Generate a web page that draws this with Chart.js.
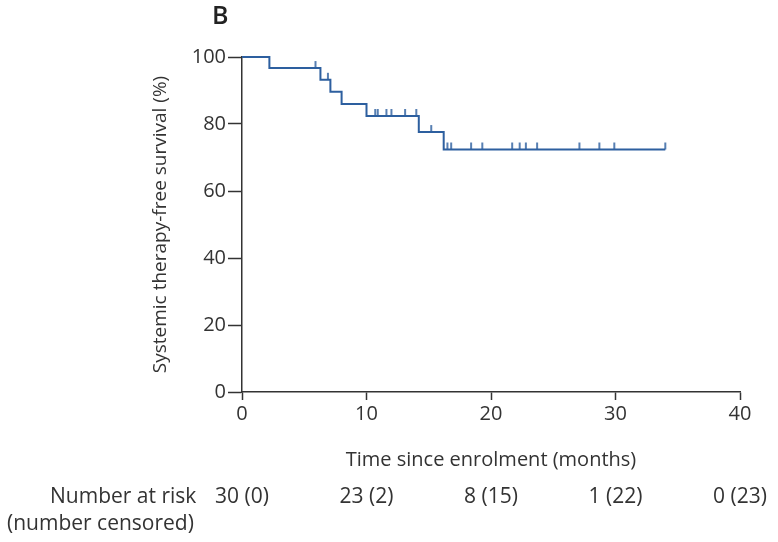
<!DOCTYPE html>
<html>
<head>
<meta charset="utf-8">
<script src="https://cdn.jsdelivr.net/npm/chart.js@4"></script>
<style>
  html,body{margin:0;padding:0;background:#fff;}
  #wrap{width:778px;height:542px;}
</style>
</head>
<body>
<div id="wrap"><canvas id="kmChart" width="778" height="542"></canvas></div>
<script>
// Kaplan-Meier-Kurve
const kmTimes = [0, 2.2, 6.3, 7.1, 8.0, 10.0, 14.2, 16.2, 34.0];
const kmSurv  = [100, 96.7, 93.2, 89.6, 86.0, 82.4, 77.6, 72.4, 72.4];

// zensierte Patienten
const censorTimes = [5.9, 6.9, 10.7, 10.9, 11.6, 12.0, 13.1, 14.0, 15.2, 16.5, 16.8, 18.4, 19.3, 21.7, 22.3, 22.8, 23.7, 27.1, 28.7, 29.9, 34.0];
const censorSurv  = [96.7, 93.2, 82.4, 82.4, 82.4, 82.4, 82.4, 82.4, 77.6, 72.4, 72.4, 72.4, 72.4, 72.4, 72.4, 72.4, 72.4, 72.4, 72.4, 72.4, 72.4];

// Number at risk
const riskTimes    = [0, 10, 20, 30, 40];
const riskCounts   = [30, 23, 8, 1, 0];
const riskCensored = [0, 2, 15, 22, 23];

const yTicks = [0, 20, 40, 60, 80, 100];
const xTicks = [0, 10, 20, 30, 40];

const blue = '#2d5f9f';
const ink = '#333';
const fontFam = '"Open Sans", sans-serif';

// kleiner Strich nach oben als Zensur-Marker
const tick = document.createElement('canvas');
tick.width = 4; tick.height = 16;
(function(){
  const c = tick.getContext('2d');
  c.strokeStyle = blue; c.lineWidth = 1.6;
  c.beginPath(); c.moveTo(2, 1); c.lineTo(2, 8); c.stroke();
})();

const extras = {
  id:'extras',
  afterDraw(chart){
    const ctx = chart.ctx, xs = chart.scales.x;
    ctx.save();
    ctx.fillStyle = '#222';
    ctx.font = '600 25px ' + fontFam;
    ctx.textBaseline = 'middle';
    ctx.textAlign = 'left';
    ctx.fillText('B', 212, 17);

    ctx.fillStyle = ink;
    ctx.font = '21px ' + fontFam;
    ctx.fillText('Number at risk', 50, 497);
    ctx.fillText('(number censored)', 7, 524);
    ctx.textAlign = 'center';
    riskTimes.forEach((t, i) => {
      ctx.fillText(riskCounts[i] + ' (' + riskCensored[i] + ')', xs.getPixelForValue(t), 497);
    });
    ctx.restore();
  }
};

new Chart(document.getElementById('kmChart'), {
  type:'line',
  data:{
    datasets:[
      {
        data: kmTimes.map((t, i) => ({x:t, y:kmSurv[i]})),
        borderColor: blue, borderWidth: 2, clip: 4,
        stepped: true, pointRadius: 0, fill: false
      },
      {
        data: censorTimes.map((t, i) => ({x:t, y:censorSurv[i]})),
        showLine: false, pointStyle: tick, pointRadius: 4, clip: 8
      }
    ]
  },
  options:{
    responsive:false, animation:false,
    layout:{ padding:{ left:140, right:38, top:57, bottom:0 } },
    plugins:{ legend:{display:false}, tooltip:{enabled:false} },
    scales:{
      x:{
        type:'linear', min:0, max:40,
        afterBuildTicks(s){ s.ticks = xTicks.map(v => ({value:v})); },
        afterFit(s){ s.height = 150; },
        border:{ color:'#333', width:1.5 },
        grid:{ drawOnChartArea:false, drawTicks:true, tickLength:8, tickColor:'#333', tickWidth:1.5 },
        ticks:{ color:ink, padding:2, font:{ family:fontFam, size:20 } },
        title:{ display:true, text:'Time since enrolment (months)', color:ink,
                font:{ family:fontFam, size:20 }, padding:{ top:0, bottom:70 } }
      },
      y:{
        min:0, max:100,
        afterBuildTicks(s){ s.ticks = yTicks.map(v => ({value:v})); },
        afterFit(s){ s.width = 102; },
        border:{ color:'#333', width:1.5 },
        grid:{ drawOnChartArea:false, drawTicks:true, tickLength:14, tickColor:'#333', tickWidth:1.5 },
        ticks:{ color:ink, padding:2, font:{ family:fontFam, size:20 } },
        title:{ display:true, text:'Systemic therapy-free survival (%)', color:ink,
                font:{ family:fontFam, size:19 }, padding:{ top:9, bottom:0 } }
      }
    }
  },
  plugins:[extras]
});
</script>
</body>
</html>
